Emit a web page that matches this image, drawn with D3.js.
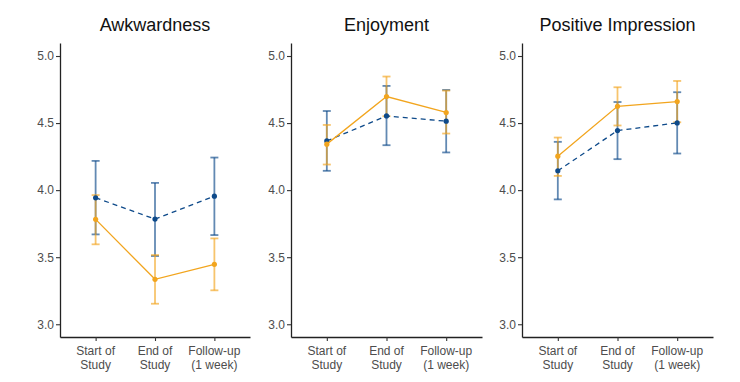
<!DOCTYPE html>
<html><head><meta charset="utf-8">
<script src="https://cdn.jsdelivr.net/npm/d3@7"></script>
<style>body{margin:0;background:#fff}svg{display:block}</style>
</head><body>
<svg id="c" width="740" height="382"></svg>
<script>
const categories = [["Start of","Study"],["End of","Study"],["Follow-up","(1 week)"]];
const panels = ["Awkwardness","Enjoyment","Positive Impression"];
const yTicks = [3.0,3.5,4.0,4.5,5.0];
// blue (dashed) series: mean, lower, upper per time point
const blueMean = [[3.943,3.784,3.955],[4.367,4.553,4.514],[4.144,4.444,4.501]];
const blueLow  = [[3.670,3.509,3.665],[4.144,4.335,4.281],[3.931,4.231,4.273]];
const blueHigh = [[4.218,4.054,4.243],[4.590,4.777,4.747],[4.360,4.657,4.730]];
// orange (solid) series
const orangeMean = [[3.782,3.335,3.447],[4.343,4.698,4.579],[4.253,4.625,4.660]];
const orangeLow  = [[3.596,3.153,3.253],[4.191,4.551,4.422],[4.106,4.482,4.506]];
const orangeHigh = [[3.963,3.516,3.640],[4.486,4.847,4.742],[4.392,4.767,4.814]];

(function(){
const BLUE = "#0e4a8a", ORANGE = "#f2a51e";
const svg = d3.select("#c");
const panelX = [[60,250],[291,482],[522,713]];
const plotTop = 43, plotBottom = 337;
const y = d3.scaleLinear().domain([2.905,5.097]).range([plotBottom, plotTop]);

panels.forEach((title, p) => {
  const [x0, x1] = panelX[p];
  const x = d3.scalePoint().domain([0,1,2]).range([x0, x1]).padding(0.6);
  const g = svg.append("g");

  const ya = g.append("g").attr("transform", `translate(${x0},0)`)
    .call(d3.axisLeft(y).tickValues(yTicks).tickFormat(d3.format(".1f")).tickSize(4).tickSizeOuter(0));
  const xa = g.append("g").attr("transform", `translate(0,${plotBottom})`)
    .call(d3.axisBottom(x).tickSize(4).tickSizeOuter(0).tickFormat(() => ""));
  [ya, xa].forEach(a => {
    a.select(".domain").attr("stroke", "#222").attr("stroke-width", 1.3);
    a.selectAll(".tick line").attr("stroke", "#333").attr("stroke-width", 1.1);
  });
  ya.selectAll(".tick text").attr("font-family", "Liberation Sans, Arial, sans-serif")
    .attr("font-size", 12).attr("fill", "#4d4d4d").attr("x", -6);
  categories.forEach((lines, i) => {
    const t = g.append("text").attr("x", x(i)).attr("y", plotBottom + 18)
      .attr("text-anchor", "middle").attr("font-family", "Liberation Sans, Arial, sans-serif")
      .attr("font-size", 12).attr("fill", "#4d4d4d");
    lines.forEach((l, j) => t.append("tspan").attr("x", x(i)).attr("dy", j ? 14 : 0).text(l));
  });
  g.append("text").attr("x", (x0 + x1) / 2).attr("y", 31).attr("text-anchor", "middle")
    .attr("font-family", "Liberation Sans, Arial, sans-serif").attr("font-size", 18)
    .attr("fill", "#111").text(title);

  const series = [
    {mean: blueMean[p], low: blueLow[p], high: blueHigh[p], color: BLUE, dash: "5,4"},
    {mean: orangeMean[p], low: orangeLow[p], high: orangeHigh[p], color: ORANGE, dash: null}
  ];
  series.forEach(s => {
    const eb = g.append("g").attr("stroke", s.color).attr("stroke-opacity", 0.65).attr("stroke-width", 1.8);
    s.mean.forEach((m, i) => {
      const cx = x(i);
      eb.append("line").attr("x1", cx).attr("x2", cx).attr("y1", y(s.low[i])).attr("y2", y(s.high[i]));
      [s.low[i], s.high[i]].forEach(v => eb.append("line").attr("x1", cx - 4).attr("x2", cx + 4)
        .attr("y1", y(v)).attr("y2", y(v)));
    });
  });
  series.forEach(s => {
    const line = d3.line().x((d, i) => x(i)).y(d => y(d));
    g.append("path").datum(s.mean).attr("d", line).attr("fill", "none")
      .attr("stroke", s.color).attr("stroke-width", 1.3).attr("stroke-dasharray", s.dash);
    g.selectAll(null).data(s.mean).enter().append("circle")
      .attr("cx", (d, i) => x(i)).attr("cy", d => y(d)).attr("r", 2.6).attr("fill", s.color);
  });
});
})();
</script>
</body></html>
